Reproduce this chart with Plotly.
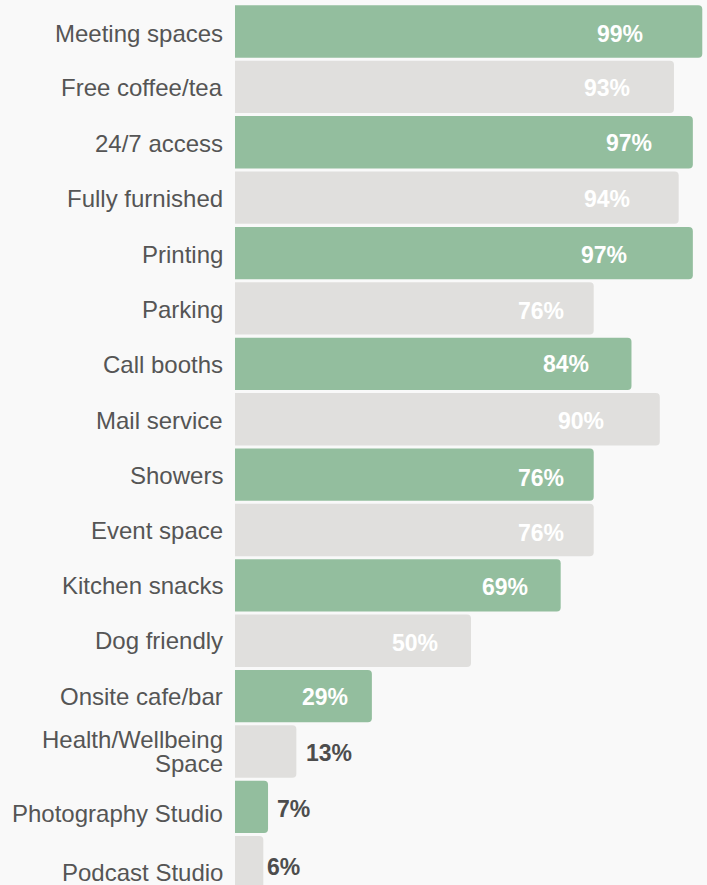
import plotly.graph_objects as go

# Amenity share, top to bottom
categories = [
    "Meeting spaces", "Free coffee/tea", "24/7 access", "Fully furnished",
    "Printing", "Parking", "Call booths", "Mail service", "Showers",
    "Event space", "Kitchen snacks", "Dog friendly", "Onsite cafe/bar",
    "Health/Wellbeing<br>Space", "Photography Studio", "Podcast Studio",
]
values = [99, 93, 97, 94, 97, 76, 84, 90, 76, 76, 69, 50, 29, 13, 7, 6]

GREEN = "#93be9e"
GREY = "#e0dfdd"
BG = "#f9f9f9"
INK = "#555555"
FONT = "Liberation Sans, Arial, sans-serif"

bar_colors = [GREEN if i % 2 == 0 else GREY for i in range(len(values))]

# horizontal nudge (px) of each value label's centre from its bar end
label_dx = [-82, -67, -64, -72, -89, -53, -65, -79, -53, -53, -56, -56, -47, 33, 25, 20]
# vertical nudges (px, negative = down) for value labels and category names
label_dy = [-2, -1, -1, -1, -2, -3, 0, -2, -3, -3, -2, -2, -1, -1, -2, -5]
name_dy = [-2, -1, -1, -1, -1, -1, -1, -1, -1, -1, 0, 0, 0, 0, -7, -10]
inside_min = 20  # labels on bars at least this long sit inside, in white
line_gap = 24    # px between lines of a two-line category name

fig = go.Figure(
    go.Bar(
        x=values,
        y=categories,
        orientation="h",
        marker=dict(color=bar_colors, line=dict(width=0)),
        hoverinfo="skip",
    )
)

for cat, v, dx, dy, ndy in zip(categories, values, label_dx, label_dy, name_dy):
    inside = v >= inside_min
    fig.add_annotation(
        x=v, y=cat, xref="x", yref="y",
        text=f"<b>{v}%</b>",
        showarrow=False,
        xanchor="center", yanchor="middle",
        xshift=dx, yshift=dy,
        font=dict(family=FONT, size=23, color="#ffffff" if inside else "#4d4d4d"),
    )
    # category name, right-aligned just left of the bars
    lines = cat.split("<br>")
    n = len(lines)
    for k, line in enumerate(lines):
        fig.add_annotation(
            x=0, y=cat, xref="x", yref="y",
            text=line,
            showarrow=False,
            xanchor="right", yanchor="middle", align="right",
            xshift=-10, yshift=ndy + ((n - 1) / 2 - k) * line_gap,
            font=dict(family=FONT, size=24, color=INK),
        )

fig.update_layout(
    width=707, height=885,
    margin=dict(l=235, r=0, t=0, b=0),
    paper_bgcolor=BG, plot_bgcolor=BG,
    bargap=0.055,
    barcornerradius=4,
    showlegend=False,
    font=dict(family=FONT, color=INK),
)
fig.update_xaxes(range=[0, 100], visible=False, fixedrange=True)
fig.update_yaxes(
    categoryorder="array", categoryarray=categories,
    range=[15.41, -0.569],
    showgrid=False, zeroline=False, showline=False,
    showticklabels=False, ticks="",
    fixedrange=True,
)

fig.write_html("out.html")
